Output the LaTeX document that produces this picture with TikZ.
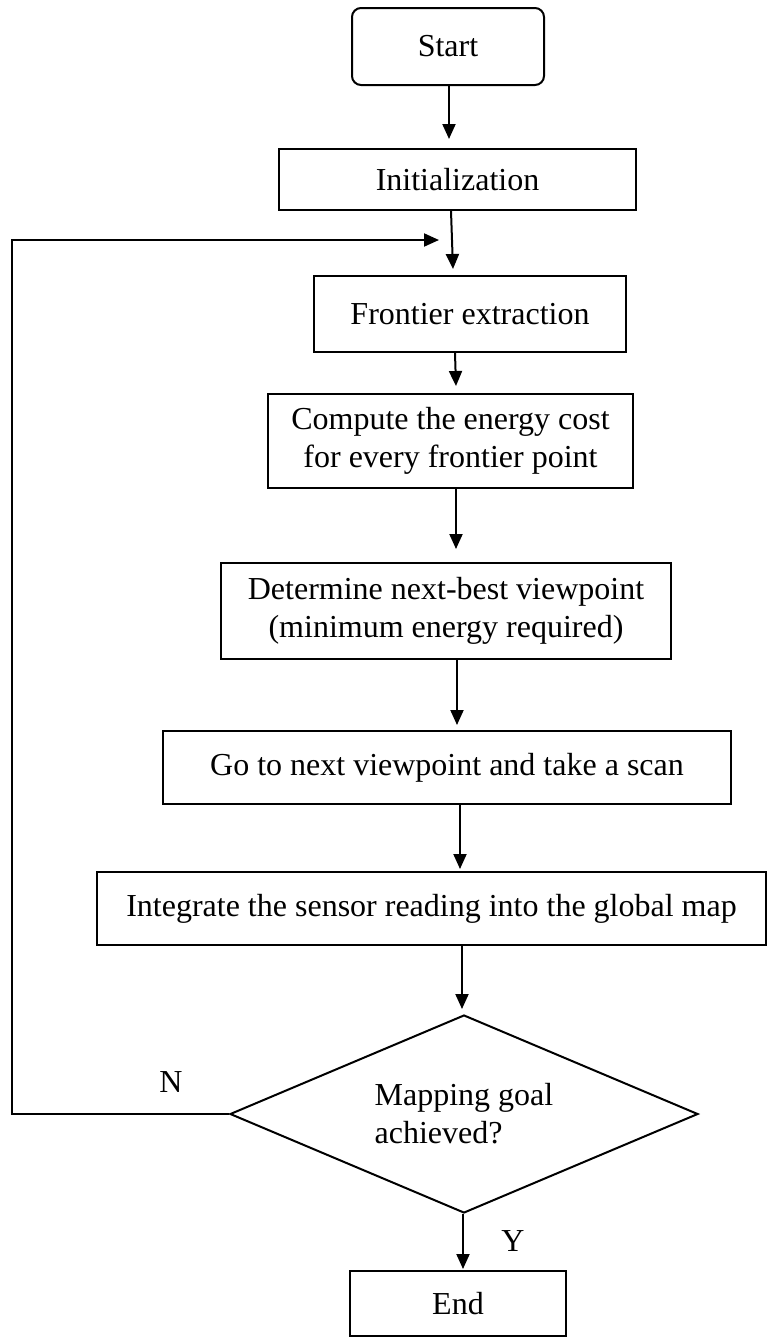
\documentclass[tikz,border=0pt]{standalone}
\usepackage{fontspec}
\setmainfont{Liberation Serif}
\usetikzlibrary{shapes.geometric,arrows.meta,calc}

\begin{document}
\begin{tikzpicture}[x=1pt,y=-1pt,
	box/.style={shape=rectangle,draw=black,line width=2pt,align=center,inner sep=0pt,font=\fontsize{32}{38}\selectfont},
	startbox/.style={box,rounded corners=9pt},
	decision/.style={shape=diamond,draw=black,line width=2pt,align=left,inner sep=0pt,aspect=2.36,font=\fontsize{32}{38}\selectfont},
	flow/.style={-{Triangle[length=15pt,width=13pt]},line width=2pt},
	lbl/.style={font=\fontsize{32}{38}\selectfont}]

	\useasboundingbox (0,0) rectangle (767,1342);

	\node[startbox,minimum width=192pt,minimum height=77pt] (start)     at (448,46.5)   {Start};
	\node[box,minimum width=357pt,minimum height=61pt]      (init)      at (457.5,179.5) {Initialization};
	\node[box,minimum width=312pt,minimum height=76pt]      (frontier)  at (470,314)    {Frontier extraction};
	\node[box,minimum width=365pt,minimum height=94pt]      (cost)      at (450.5,441)  {Compute the energy cost\\for every frontier point};
	\node[box,minimum width=450pt,minimum height=96pt]      (nbv)       at (446,611)    {Determine next-best viewpoint\\(minimum energy required)};
	\node[box,minimum width=568pt,minimum height=73pt]      (goto)      at (447,767.5)  {Go to next viewpoint and take a scan};
	\node[box,minimum width=669pt,minimum height=73pt]      (integrate) at (431.5,908.5) {Integrate the sensor reading into the global map};
	\node[decision,minimum width=468pt,minimum height=198pt] (goal)     at (464,1114)   {Mapping goal\\achieved?};
	\node[box,minimum width=216pt,minimum height=65pt]      (stop)      at (458,1303.5) {End};

	\node[lbl] (no)  at (171,1082) {N};
	\node[lbl] (yes) at (513,1241) {Y};

	\coordinate (back) at (439,240);

	\draw[flow] ($(start.south)+(1,0)$)       -- ($(init.north)+(-8.5,-9)$);
	\draw[flow] ($(init.south)+(-6.5,0)$)     -- ($(frontier.north)+(-17,-6)$);
	\draw[flow] ($(frontier.south)+(-15,0)$)  -- ($(cost.north)+(5.5,-7)$);
	\draw[flow] ($(cost.south)+(5.5,0)$)      -- ($(nbv.north)+(10,-13)$);
	\draw[flow] ($(nbv.south)+(11,0)$)        -- ($(goto.north)+(10,-5)$);
	\draw[flow] ($(goto.south)+(13,0)$)       -- ($(integrate.north)+(28.5,-2)$);
	\draw[flow] ($(integrate.south)+(30.5,0)$) -- ($(goal.north)+(-2,-5)$);
	\draw[flow] ($(goal.south)+(-1,0)$)       -- ($(stop.north)+(5,-1)$);

	\draw[flow] (goal.west) -- ++(-217,0) |- (back);

\end{tikzpicture}
\end{document}
